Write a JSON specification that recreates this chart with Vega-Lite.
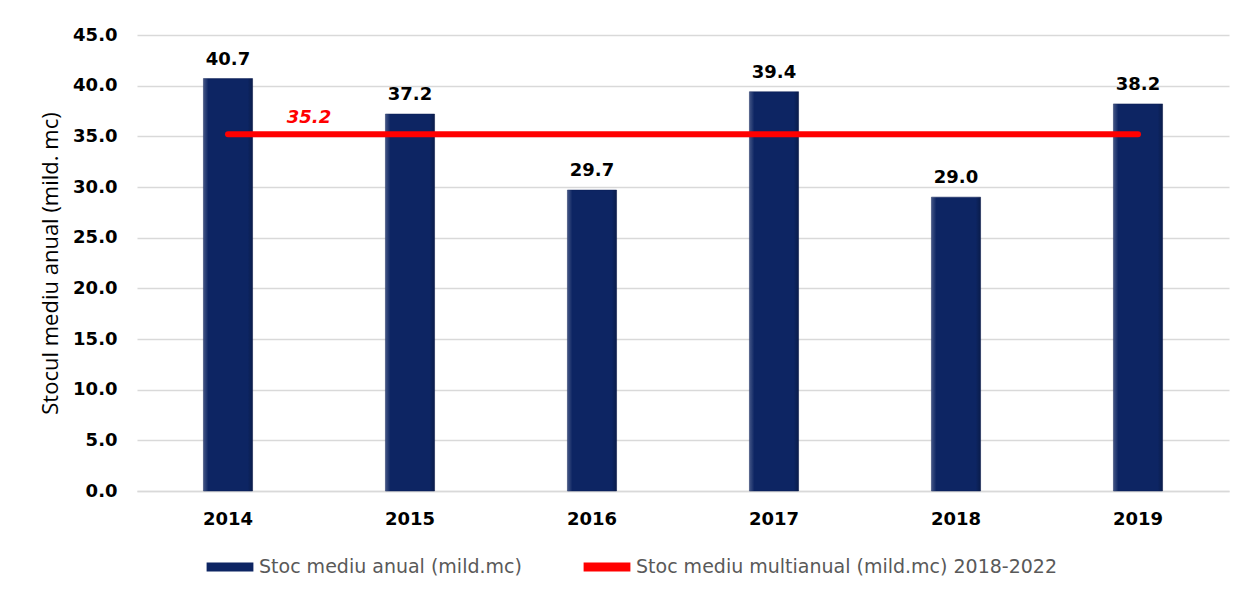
{
  "$schema": "https://vega.github.io/schema/vega-lite/v6.json",
  "width": 1092,
  "height": 456,
  "autosize": {"type": "none"},
  "padding": {"left": 137, "top": 35, "right": 13, "bottom": 101},
  "background": "#ffffff",
  "datasets": {
    "bars": [
      {"year": "2014", "value": 40.7},
      {"year": "2015", "value": 37.2},
      {"year": "2016", "value": 29.7},
      {"year": "2017", "value": 39.4},
      {"year": "2018", "value": 29.0},
      {"year": "2019", "value": 38.2}
    ],
    "avg": [
      {"start": "2014", "end": "2019", "value": 35.2, "label": "35.2"}
    ]
  },
  "config": {
    "view": {"stroke": null},
    "font": "DejaVu Sans",
    "axis": {"labelFont": "DejaVu Sans", "titleFont": "DejaVu Sans"},
    "legend": {"labelFont": "DejaVu Sans"}
  },
  "layer": [
    {
      "data": {"name": "bars"},
      "mark": {"type": "bar", "stroke": "#0a1d52", "strokeWidth": 0.5},
      "encoding": {
        "x": {
          "field": "year",
          "type": "nominal",
          "sort": null,
          "scale": {"paddingInner": 0.73, "paddingOuter": 0.365},
          "axis": {
            "title": null,
            "labelAngle": 0,
            "labelFontSize": 18,
            "labelFontWeight": "bold",
            "labelColor": "#000000",
            "labelPadding": 19,
            "ticks": false,
            "domainColor": "#d9d9d9",
            "domainWidth": 1.5
          }
        },
        "y": {
          "field": "value",
          "type": "quantitative",
          "scale": {"domain": [0, 45], "nice": false},
          "axis": {
            "title": "Stocul mediu anual (mild. mc)",
            "titleFont": "Open Sans",
            "titleFontSize": 22,
            "titleFontWeight": "normal",
            "titleColor": "#000000",
            "titlePadding": 10,
            "values": [0, 5, 10, 15, 20, 25, 30, 35, 40, 45],
            "format": ".1f",
            "labelFontSize": 18,
            "labelFontWeight": "bold",
            "labelColor": "#000000",
            "labelPadding": 20,
            "ticks": false,
            "domain": false,
            "gridColor": "#d9d9d9",
            "gridWidth": 1.5
          }
        },
        "color": {
          "datum": "Stoc mediu anual (mild.mc)",
          "type": "nominal",
          "scale": {
            "domain": ["Stoc mediu anual (mild.mc)", "Stoc mediu multianual (mild.mc) 2018-2022"],
            "range": ["#0d2563", "#ff0000"]
          },
          "legend": {
            "title": null,
            "orient": "none",
            "direction": "horizontal",
            "legendX": 67,
            "legendY": 506,
            "symbolType": "M-0.9,-0.17H0.9V0.17H-0.9Z",
            "symbolSize": 2704,
            "symbolStrokeWidth": 0,
            "labelFontSize": 19,
            "labelColor": "#595959",
            "labelOffset": 3,
            "columnPadding": 59,
            "labelLimit": 600,
            "encode": {
              "symbols": {
                "update": {
                  "fill": {"signal": "datum.value == 'Stoc mediu anual (mild.mc)' ? '#0d2563' : '#ff0000'"},
                  "strokeWidth": {"value": 0},
                  "opacity": {"value": 1}
                }
              }
            }
          }
        }
      }
    },
    {
      "data": {"name": "bars"},
      "mark": {
        "type": "bar",
        "fill": {
          "gradient": "linear",
          "x1": 0, "x2": 1, "y1": 0, "y2": 0,
          "stops": [
            {"offset": 0, "color": "rgba(255,255,255,0.22)"},
            {"offset": 0.1, "color": "rgba(255,255,255,0.0)"},
            {"offset": 0.9, "color": "rgba(0,0,0,0.0)"},
            {"offset": 1, "color": "rgba(0,0,0,0.25)"}
          ]
        }
      },
      "encoding": {
        "x": {"field": "year", "type": "nominal", "sort": null},
        "y": {"field": "value", "type": "quantitative"}
      }
    },
    {
      "data": {"name": "bars"},
      "mark": {
        "type": "text",
        "baseline": "alphabetic",
        "dy": -14,
        "fontSize": 18,
        "fontWeight": "bold",
        "color": "#000000"
      },
      "encoding": {
        "x": {"field": "year", "type": "nominal", "sort": null},
        "y": {"field": "value", "type": "quantitative"},
        "text": {"field": "value", "type": "quantitative", "format": ".1f"}
      }
    },
    {
      "data": {"name": "avg"},
      "mark": {"type": "rule", "strokeWidth": 6, "strokeCap": "round"},
      "encoding": {
        "x": {"field": "start", "type": "nominal"},
        "x2": {"field": "end"},
        "y": {"field": "value", "type": "quantitative"},
        "color": {"datum": "Stoc mediu multianual (mild.mc) 2018-2022", "type": "nominal"}
      }
    },
    {
      "data": {"name": "avg"},
      "mark": {
        "type": "text",
        "dx": 81,
        "dy": -16,
        "baseline": "middle",
        "fontSize": 18,
        "fontWeight": "bold",
        "fontStyle": "italic",
        "color": "#ff0000"
      },
      "encoding": {
        "x": {"field": "start", "type": "nominal"},
        "y": {"field": "value", "type": "quantitative"},
        "text": {"field": "label"}
      }
    }
  ]
}
